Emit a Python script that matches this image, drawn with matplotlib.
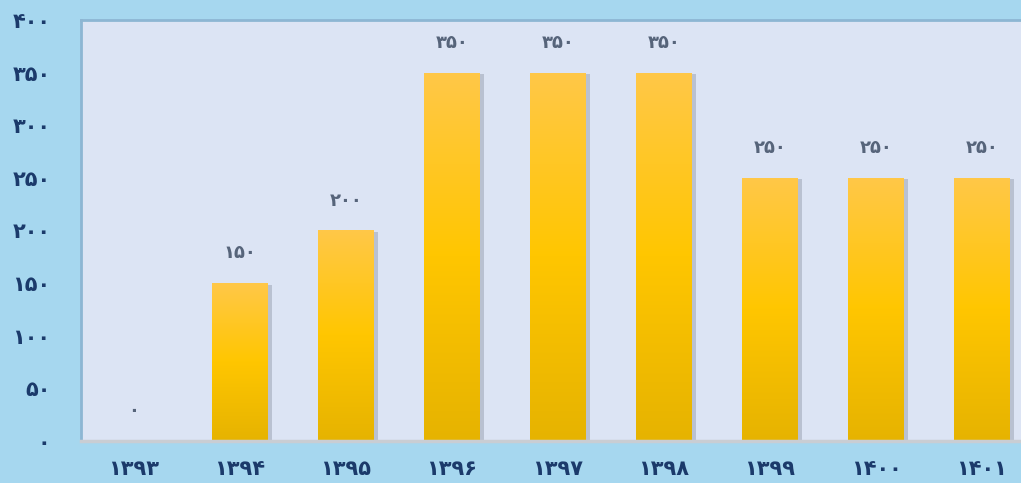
import matplotlib.pyplot as plt
import matplotlib.patheffects as pe
from matplotlib.colors import LinearSegmentedColormap
import numpy as np

# years (Persian calendar) and values, written with Persian digits
years = ['۱۳۹۳', '۱۳۹۴', '۱۳۹۵', '۱۳۹۶', '۱۳۹۷', '۱۳۹۸', '۱۳۹۹', '۱۴۰۰', '۱۴۰۱']
values = [0, 150, 200, 350, 350, 350, 250, 250, 250]
yticks = [0, 50, 100, 150, 200, 250, 300, 350, 400]

fa_digits = str.maketrans('0123456789', '۰۱۲۳۴۵۶۷۸۹')


def fa(n):
    return str(n).translate(fa_digits)


W, H = 1021, 483
fig = plt.figure(figsize=(W / 100, H / 100), dpi=100)
fig.patch.set_facecolor('#a6d7ef')

# plot area runs past the right edge of the picture, as in the reference
left, right, top, bottom = 81, 1035, 20, 441
ax = fig.add_axes([left / W, 1 - bottom / H, (right - left) / W, (bottom - top) / H])
ax.set_facecolor('#dce4f4')

x = np.arange(len(years))
bars = ax.bar(x, values, width=0.52, color='#ffc600', zorder=3,
              path_effects=[pe.SimplePatchShadow(offset=(3, -1), shadow_rgbFace='#7a8090', alpha=0.35),
                            pe.Normal()])

# vertical gold gradient inside each bar
grad = np.linspace(0, 1, 256).reshape(-1, 1)
cmap = LinearSegmentedColormap.from_list('gold', ['#e6b300', '#ffc600', '#ffc848'])
for b in bars:
    if b.get_height() <= 0:
        continue
    im = ax.imshow(grad, cmap=cmap, aspect='auto', origin='lower', zorder=4,
                   extent=[b.get_x(), b.get_x() + b.get_width(), 0, b.get_height()])
    im.set_clip_path(b)

for xi, v in zip(x, values):
    ax.annotate(fa(v), (xi, v), xytext=(0, 30), textcoords='offset pixels',
                ha='center', va='center', fontsize=13, fontweight='bold', color='#56647a',
                family='DejaVu Sans', zorder=5)

ax.set_xlim(-0.5, len(years) - 0.5)
ax.set_ylim(0, 400)
ax.set_xticks(x)
ax.set_xticklabels(years)
ax.set_yticks(yticks)
ax.set_yticklabels([fa(t) for t in yticks])
ax.tick_params(length=0)
ax.tick_params(axis='x', pad=13)
ax.tick_params(axis='y', pad=22)
for lab in ax.get_xticklabels() + ax.get_yticklabels():
    lab.set_fontsize(15)
    lab.set_fontweight('bold')
    lab.set_color('#1b3a6b')
    lab.set_family('DejaVu Sans')

ax.spines['right'].set_visible(False)
ax.spines['left'].set_color('#8db6d3')
ax.spines['left'].set_linewidth(2)
ax.spines['top'].set_color('#8db6d3')
ax.spines['top'].set_linewidth(2)
ax.spines['bottom'].set_color('#c9cdd3')
ax.spines['bottom'].set_linewidth(2.5)
ax.spines['bottom'].set_zorder(6)

fig.savefig('out.png', dpi=100, facecolor=fig.get_facecolor())
